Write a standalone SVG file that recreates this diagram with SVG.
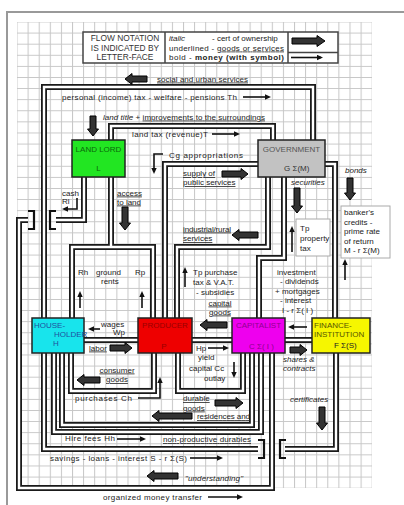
<svg xmlns="http://www.w3.org/2000/svg" width="404" height="505" viewBox="0 0 404 505">
<style>
.t{font-family:"Liberation Sans",Arial,sans-serif;font-size:8px;fill:#222}
.n{font-family:"Liberation Sans",Arial,sans-serif;font-size:8px}
.lg{font-family:"Liberation Sans",Arial,sans-serif;font-size:8.4px;fill:#333}
.u{text-decoration:underline}
.i{font-style:italic}
.b{font-weight:bold}
.po{fill:none;stroke:#1a1a1a;stroke-width:6}
.pi{fill:none;stroke:#fff;stroke-width:2.4}
.big{fill:#333;stroke:#000;stroke-width:1}
.thin{fill:none;stroke:#111;stroke-width:1.6;marker-end:url(#ah)}
.br{fill:none;stroke:#111;stroke-width:2.2}
.node{stroke:#222;stroke-width:1.5}
.box{fill:#fff;stroke:#aaa;stroke-width:1}
</style>
<defs>
<pattern id="grid" x="16.5" y="21.5" width="11.1" height="11.1" patternUnits="userSpaceOnUse">
<path d="M0 0.5H11.1M0.5 0V11.1" fill="none" stroke="#c6c6c6" stroke-width="1"/>
</pattern>
<marker id="ah" markerWidth="6" markerHeight="6" refX="4" refY="3" orient="auto" markerUnits="userSpaceOnUse">
<path d="M0,0.3 L6,3 L0,5.7z" fill="#111"/>
</marker>
<path id="pA" d="M44 318V87H313V140"/>
<path id="pB" d="M111 140V126H273V140"/>
<path id="pC1" d="M84 177V220H56"/>
<path id="pC2" d="M28 220H19V488H272V353"/>
<path id="pD" d="M72 318V247H153V318"/>
<path id="pD2" d="M111 177V247"/>
<path id="pE" d="M258 164H165V318"/>
<path id="pF" d="M268 177V247H177V318"/>
<path id="pG" d="M284 177V258H259V318"/>
<path id="pH" d="M325 164H335V318"/>
<path id="pI" d="M84 340H138"/>
<path id="pJ" d="M192 340H232"/>
<path id="pK" d="M285 340H312"/>
<path id="pL" d="M71 353V391H154V353"/>
<path id="pM" d="M178 353V391H243V353"/>
<path id="pN" d="M62 353V425H252V353"/>
<path id="pO" d="M54 353V432H261V353"/>
<path id="pP1" d="M44 353V449H258"/>
<path id="pP2" d="M285 449H336V353"/>
</defs>

<rect width="404" height="505" fill="#fff"/>
<path d="M7 505V12H404" fill="none" stroke="#999" stroke-width="2"/>
<rect x="17" y="22" width="355" height="466" fill="url(#grid)"/>

<g id="legend">
<rect x="83" y="32" width="255" height="31" fill="#fff" stroke="#444" stroke-width="1.5"/>
<path d="M165 32V63M288 32V63M288 52.5H338" stroke="#444" stroke-width="1.5" fill="none"/>
<text class="lg" x="125" y="41" text-anchor="middle">FLOW NOTATION</text>
<text class="lg" x="125" y="50.5" text-anchor="middle">IS INDICATED BY</text>
<text class="lg" x="125" y="60" text-anchor="middle">LETTER-FACE</text>
<text class="t" x="169" y="41"><tspan class="i">italic</tspan></text>
<text class="t" x="212" y="41">- cert of ownership</text>
<text class="t" x="169" y="50.5" textLength="115">underlined - <tspan class="u">goods or services</tspan></text>
<text class="t" x="169" y="60" textLength="115">bold  - <tspan class="b">money (with symbol)</tspan></text>
<path class="big" d="M292,38 H317 V35.5 L325,41 L317,46.5 V44 H292 Z"/>
<path class="thin" d="M291,57.5 H321"/>
</g>

<g id="connectors">
<use href="#pA" class="po"/><use href="#pB" class="po"/><use href="#pC1" class="po"/><use href="#pC2" class="po"/>
<use href="#pD" class="po"/><use href="#pD2" class="po"/><use href="#pE" class="po"/><use href="#pF" class="po"/>
<use href="#pG" class="po"/><use href="#pH" class="po"/><use href="#pI" class="po"/><use href="#pJ" class="po"/>
<use href="#pK" class="po"/><use href="#pL" class="po"/><use href="#pM" class="po"/><use href="#pN" class="po"/>
<use href="#pO" class="po"/><use href="#pP1" class="po"/><use href="#pP2" class="po"/>
<use href="#pA" class="pi"/><use href="#pB" class="pi"/><use href="#pC1" class="pi"/><use href="#pC2" class="pi"/>
<use href="#pD" class="pi"/><use href="#pD2" class="pi"/><use href="#pE" class="pi"/><use href="#pF" class="pi"/>
<use href="#pG" class="pi"/><use href="#pH" class="pi"/><use href="#pI" class="pi"/><use href="#pJ" class="pi"/>
<use href="#pK" class="pi"/><use href="#pL" class="pi"/><use href="#pM" class="pi"/><use href="#pN" class="pi"/>
<use href="#pO" class="pi"/><use href="#pP1" class="pi"/><use href="#pP2" class="pi"/>
<path class="br" d="M28 211H34V229H28M56 211H50V229H56"/>
<path class="br" d="M258 440H264V458H258M286 440H280V458H286"/>
</g>

<g id="flow-arrows">
<path class="big" d="M147,76 H132 V73.5 L125,79 L132,84.5 V82 H147 Z"/>
<path class="big" d="M90,116 V129 H87.5 L93,136 L98.5,129 H96 V116 Z"/>
<path class="big" d="M222,171 H241 V168.5 L248,174 L241,179.5 V177 H222 Z"/>
<path class="big" d="M122,207 V223 H119.5 L125,230 L130.5,223 H128 V207 Z"/>
<path class="big" d="M258,232 H239 V229.5 L232,235 L239,240.5 V238 H258 Z"/>
<path class="big" d="M294,188 V206 H291.5 L297,213 L302.5,206 H300 V188 Z"/>
<path class="big" d="M347,178 V193 H344.5 L350,200 L355.5,193 H353 V178 Z"/>
<path class="big" d="M227,322 H207 V319.5 L200,325 L207,330.5 V328 H227 Z"/>
<path class="big" d="M110,345 H125 V342.5 L132,348 L125,353.5 V351 H110 Z"/>
<path class="big" d="M290,347 H300 V344.5 L307,350 L300,355.5 V353 H290 Z"/>
<path class="big" d="M100,377 H84 V374.5 L77,380 L84,385.5 V383 H100 Z"/>
<path class="big" d="M215,400 H236 V397.5 L243,403 L236,408.5 V406 H215 Z"/>
<path class="big" d="M192,413 H159 V410.5 L152,416 L159,421.5 V419 H192 Z"/>
<path class="big" d="M319,407 V423 H316.5 L322,430 L327.5,423 H325 V407 Z"/>
<path class="big" d="M178,473 H154 V470.5 L147,476 L154,481.5 V479 H178 Z"/>
<path class="thin" d="M243,97 H269"/>
<path class="thin" d="M212,134 H238"/>
<path class="thin" d="M163,154 H154 V172"/>
<path class="thin" d="M77,198 V209 H64"/>
<path class="thin" d="M292,252 V228"/>
<path class="thin" d="M345,280 V261"/>
<path class="thin" d="M80,308 V293"/>
<path class="thin" d="M142,308 V293"/>
<path class="thin" d="M185,287 V269"/>
<path class="thin" d="M100,329 H90"/>
<path class="thin" d="M307,327 H290"/>
<path class="thin" d="M208,348 H227"/>
<path class="thin" d="M234,362 V376"/>
<path class="thin" d="M138,398 H160 V379"/>
<path class="thin" d="M117,439 H144"/>
<path class="thin" d="M190,458 H221"/>
<path class="thin" d="M208,497 H241"/>
</g>

<g id="labels">
<rect class="box" x="341" y="206" width="49" height="52"/>
<rect class="box" x="296" y="219" width="34" height="37" stroke="#ccc"/>
<text class="t u" x="157" y="81.5" textLength="91">social and urban services</text>
<text class="t" x="62" y="99.5" textLength="175">personal (income) tax - welfare - pensions  Th</text>
<text class="t" x="103" y="119.5" textLength="162"><tspan class="i">land title</tspan> + <tspan class="u">improvements to the surroundings</tspan></text>
<text class="t" x="132" y="136.5" textLength="76">land tax (revenue)T</text>
<text class="t" x="169" y="157.5" textLength="74">Cg  appropriations</text>
<text class="t u" x="183" y="176">supply of</text>
<text class="t u" x="183" y="185">public services</text>
<text class="t" x="62" y="195.5">cash</text>
<text class="t" x="62" y="204">Rl</text>
<text class="t u" x="117" y="195.5">access</text>
<text class="t u" x="117" y="204.5">to land</text>
<text class="t i" x="291" y="184.5">securities</text>
<text class="t i" x="345" y="172.5">bonds</text>
<text class="t" x="300" y="231">Tp</text>
<text class="t" x="300" y="241">property</text>
<text class="t" x="300" y="251">tax</text>
<text class="t" x="344" y="215">banker's</text>
<text class="t" x="344" y="224.5">credits -</text>
<text class="t" x="344" y="234">prime rate</text>
<text class="t" x="344" y="243.5">of return</text>
<text class="t" x="344" y="253">M - r Σ(M)</text>
<text class="t u" x="183" y="231.5" textLength="48">industrial/rural</text>
<text class="t u" x="183" y="241">services</text>
<text class="t" x="78" y="274.5">Rh</text>
<text class="t" x="96" y="274.5">ground</text>
<text class="t" x="135" y="274.5">Rp</text>
<text class="t" x="101" y="284">rents</text>
<text class="t" x="193" y="274.5">Tp purchase</text>
<text class="t" x="193" y="284.5">tax &amp; V.A.T.</text>
<text class="t" x="196" y="294.5">- subsidies</text>
<text class="t u" x="220" y="305.5" text-anchor="middle">capital</text>
<text class="t u" x="220" y="314.5" text-anchor="middle">goods</text>
<text class="t" x="277" y="274.5">investment</text>
<text class="t" x="280" y="284">- dividends</text>
<text class="t" x="275" y="293.5">+ mortgages</text>
<text class="t" x="280" y="303">- interest</text>
<text class="t" x="282" y="312.5">I - r Σ( I )</text>
<text class="t" x="101" y="327">wages</text>
<text class="t" x="113" y="335">Wp</text>
<text class="t u" x="89" y="350.5">labor</text>
<text class="t" x="196" y="350.5">Hp</text>
<text class="t" x="198" y="360">yield</text>
<text class="t" x="189" y="371">capital  Cc</text>
<text class="t" x="204" y="381">outlay</text>
<text class="t i" x="283" y="362">shares &amp;</text>
<text class="t i" x="283" y="371">contracts</text>
<text class="t u" x="117" y="372.5" text-anchor="middle">consumer</text>
<text class="t u" x="117" y="382" text-anchor="middle">goods</text>
<text class="t" x="75" y="400.5" textLength="57">purchases  Ch</text>
<text class="t u" x="183" y="401">durable</text>
<text class="t u" x="183" y="410.5">goods</text>
<text class="t u" x="197" y="419" textLength="53">residences and</text>
<text class="t i" x="290" y="401.5">certificates</text>
<text class="t" x="65" y="441" textLength="50">Hire fees  Hh</text>
<text class="t u" x="163" y="442" textLength="88">non-productive durables</text>
<text class="t" x="50" y="461" textLength="137">savings - loans - interest  S - r Σ(S)</text>
<text class="t i" x="185" y="480.5" textLength="58">"understanding"</text>
<text class="t" x="103" y="500" textLength="99">organized money transfer</text>
</g>

<g id="landlord">
<rect class="node" x="72" y="140" width="53" height="37" fill="#22e622"/>
<text class="n" x="98.5" y="152" text-anchor="middle" fill="#0a6a0a">LAND LORD</text>
<text class="n" x="98.5" y="171" text-anchor="middle" fill="#0a6a0a">L</text>
</g>
<g id="government">
<rect class="node" x="258" y="140" width="67" height="37" fill="#c2c2c2"/>
<text class="n" x="291.5" y="152" text-anchor="middle" fill="#555">GOVERNMENT</text>
<text class="n" x="284" y="171" fill="#333">G  Σ(M)</text>
</g>
<g id="householder">
<rect class="node" x="32" y="318" width="52" height="35" fill="#18e4ec"/>
<text class="n" x="34" y="328" fill="#2050a0">HOUSE-</text>
<text class="n" x="54" y="337" fill="#2050a0">HOLDER</text>
<text class="n" x="53" y="346" fill="#2050a0">H</text>
</g>
<g id="producer">
<rect class="node" x="138" y="318" width="54" height="35" fill="#ee0000"/>
<text class="n" x="165" y="328" text-anchor="middle" fill="#990000">PRODUCER</text>
<text class="n" x="164" y="349" text-anchor="middle" fill="#990000">P</text>
</g>
<g id="capitalist">
<rect class="node" x="232" y="318" width="53" height="35" fill="#ee00ee"/>
<text class="n" x="258.5" y="328" text-anchor="middle" fill="#900090">CAPITALIST</text>
<text class="n" x="249" y="349" fill="#900090">C  Σ( I )</text>
</g>
<g id="finance">
<rect class="node" x="312" y="318" width="58" height="35" fill="#f6f600"/>
<text class="n" x="314" y="328" fill="#555500">FINANCE-</text>
<text class="n" x="314" y="337" fill="#555500">INSTITUTION</text>
<text class="n" x="334" y="348" fill="#222">F  Σ(S)</text>
</g>
</svg>
